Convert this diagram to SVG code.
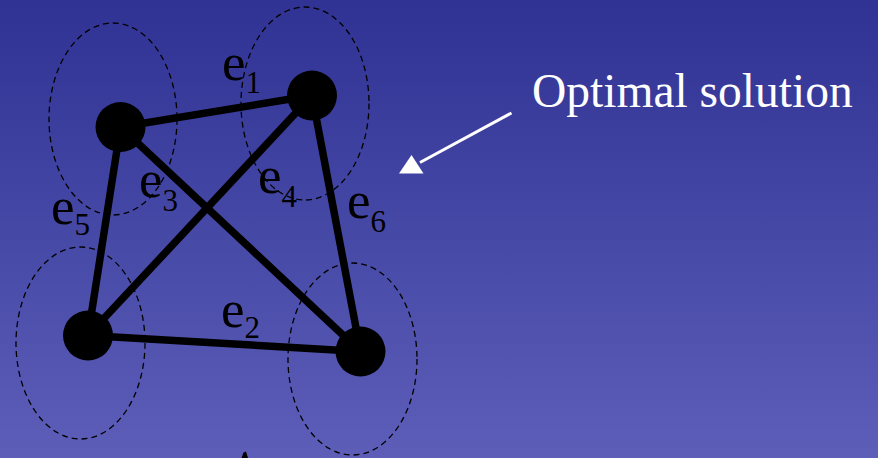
<svg xmlns="http://www.w3.org/2000/svg" width="878" height="458" viewBox="0 0 878 458">
<defs>
<linearGradient id="bg" x1="0" y1="0" x2="0" y2="1">
<stop offset="0" stop-color="#303294"/>
<stop offset="1" stop-color="#5c5eb8"/>
</linearGradient>
<style>
.node{fill:#000}
.ring{fill:none;stroke:#000;stroke-width:1.3;stroke-dasharray:6 4}
.edge{stroke:#000;stroke-width:7.5;stroke-linecap:round}
.lbl{font-family:"Liberation Serif","Times New Roman",serif;font-size:53px;fill:#000}
.sub{font-size:31px}
.note{font-family:"Liberation Serif","Times New Roman",serif;font-size:47.5px;fill:#fff}
</style>
</defs>
<rect width="878" height="458" fill="url(#bg)"/>
<g id="rings">
<ellipse class="ring" cx="113" cy="119" rx="64" ry="96"/>
<ellipse class="ring" cx="305" cy="103.5" rx="64" ry="96.5"/>
<ellipse class="ring" cx="80.5" cy="343" rx="64.5" ry="96"/>
<ellipse class="ring" cx="352.5" cy="359" rx="64.5" ry="96"/>
</g>
<g id="connectors">
<line class="edge" x1="120.5" y1="127" x2="312" y2="95.5"/>
<line class="edge" x1="88" y1="335.5" x2="360.5" y2="351.5"/>
<line class="edge" x1="120.5" y1="127" x2="360.5" y2="351.5"/>
<line class="edge" x1="312" y1="95.5" x2="88" y2="335.5"/>
<line class="edge" x1="120.5" y1="127" x2="88" y2="335.5"/>
<line class="edge" x1="312" y1="95.5" x2="360.5" y2="351.5"/>
<line x1="511.5" y1="113" x2="420" y2="162.5" stroke="#fff" stroke-width="3"/>
<path d="M399,173.5 L411.5,155 L423.5,173.5 z" fill="#fff"/>
</g>
<g id="nodeA"><circle class="node" cx="120.5" cy="127" r="25"/></g>
<g id="nodeB"><circle class="node" cx="312" cy="95.5" r="25"/></g>
<g id="nodeC"><circle class="node" cx="88" cy="335.5" r="25"/></g>
<g id="nodeD"><circle class="node" cx="360.5" cy="351.5" r="25"/></g>
<g id="labels">
<text class="lbl" x="222" y="80">e<tspan class="sub" dy="12.5">1</tspan></text>
<text class="lbl" x="221" y="327">e<tspan class="sub" dy="11">2</tspan></text>
<text class="lbl" x="139" y="197">e<tspan class="sub" dy="14">3</tspan></text>
<text class="lbl" x="258" y="193">e<tspan class="sub" dy="14">4</tspan></text>
<text class="lbl" x="51" y="224">e<tspan class="sub" dy="11">5</tspan></text>
<text class="lbl" x="347" y="218">e<tspan class="sub" dy="14">6</tspan></text>
</g>
<g id="note"><text class="note" x="532" y="106.5">Optimal solution</text></g>
<path d="M241.5,458 L243.5,452.5 L246,451.5 L248,458 z" fill="#000"/>
</svg>
